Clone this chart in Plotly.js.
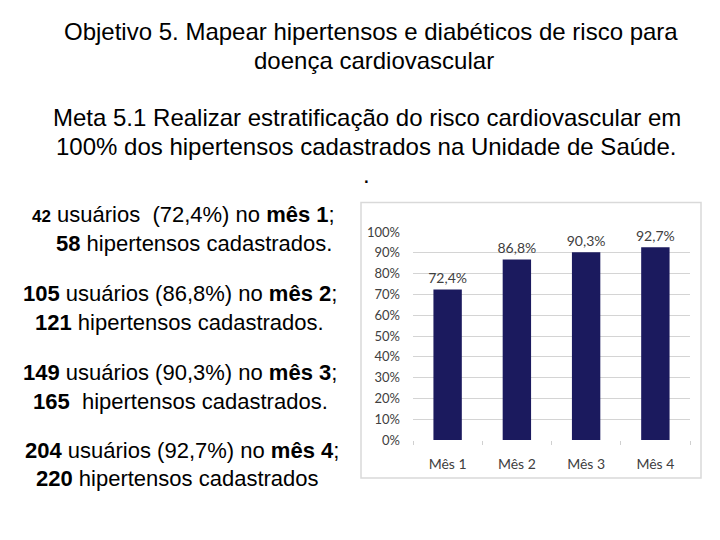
<!DOCTYPE html>
<html>
<head>
<meta charset="utf-8">
<script src="https://cdn.plot.ly/plotly-3.0.1.min.js"></script>
<style>html,body{margin:0;padding:0;background:#fff;}#chart{width:720px;height:540px;}</style>
</head>
<body>
<div id="chart"></div>
<script>
// Data
const months = ['Mês 1', 'Mês 2', 'Mês 3', 'Mês 4'];
const percentages = [72.4, 86.8, 90.3, 92.7];
const usuarios = [42, 105, 149, 204];
const cadastrados = [58, 121, 165, 220];
const yTicks = [0, 10, 20, 30, 40, 50, 60, 70, 80, 90, 100];
const yTickLabels = yTicks.map(v => v + '%');
const titleLines = [
  'Objetivo 5. Mapear hipertensos e diabéticos de risco para',
  'doença cardiovascular',
  'Meta 5.1 Realizar estratificação do risco cardiovascular em',
  '100% dos hipertensos cadastrados na Unidade de Saúde.',
  '.'
];

// Layout geometry (pixels)
const W = 720, H = 540;
const L = 413, R = 690, T = 231.5, B = 440;
const px = x => (x - L) / (R - L);
const py = y => (B - y) / (B - T);

const annotations = [];
const titlePos = [[371, 31], [374, 60], [367, 117], [366, 146], [366, 174]];
titleLines.forEach((t, i) => {
  annotations.push({
    xref: 'paper', yref: 'paper', x: px(titlePos[i][0]), y: py(titlePos[i][1]),
    xanchor: 'center', yanchor: 'middle', showarrow: false, text: t,
    font: {family: 'Liberation Sans, Arial, sans-serif', size: 24, color: '#000'}
  });
});

const leftCenters = [[183, 214, 194, 243], [180, 293, 179, 322], [180, 372, 180, 401], [182, 451, 177, 479]];
const fmt = v => v.toFixed(1).replace('.', ',');
months.forEach((m, i) => {
  const n = m.split(' ')[1];
  const first = (i === 0 ? '<b><span style="font-size:17px">' + usuarios[i] + '</span></b>' : '<b>' + usuarios[i] + '</b>') +
    ' usuários ' + (i === 0 ? ' ' : '') + '(' + fmt(percentages[i]) + '%) no <b>mês ' + n + '</b>;';
  const second = '<b>' + cadastrados[i] + '</b>' + (i === 2 ? '  ' : ' ') + 'hipertensos cadastrados' + (i < 3 ? '.' : '');
  const c = leftCenters[i];
  annotations.push({
    xref: 'paper', yref: 'paper', x: px(c[0]), y: py(c[1]), xanchor: 'center', yanchor: 'middle',
    showarrow: false, text: first, font: {family: 'Liberation Sans, Arial, sans-serif', size: 22, color: '#000'}
  });
  annotations.push({
    xref: 'paper', yref: 'paper', x: px(c[2]), y: py(c[3]), xanchor: 'center', yanchor: 'middle',
    showarrow: false, text: second, font: {family: 'Liberation Sans, Arial, sans-serif', size: 22, color: '#000'}
  });
});

const trace = {
  type: 'bar',
  x: months,
  y: percentages,
  marker: {color: '#1b1a5e'},
  texttemplate: '%{y:.1f}%',
  textposition: 'outside',
  constraintext: 'none',
  textfont: {family: 'Lato, Open Sans, sans-serif', size: 14, color: '#404040'},
  cliponaxis: false,
  hoverinfo: 'none'
};

const layout = {
  width: W, height: H,
  margin: {l: L, r: W - R, t: T, b: H - B, pad: 0},
  paper_bgcolor: '#fff', plot_bgcolor: '#fff',
  separators: ',.',
  showlegend: false,
  bargap: 0.59,
  xaxis: {
    type: 'category',
    tickfont: {family: 'Lato, Open Sans, sans-serif', size: 14, color: '#404040'},
    ticks: 'outside', tickson: 'boundaries', ticklen: 4, tickcolor: '#d0d0d0',
    showgrid: false, zeroline: false, showline: false,
    ticklabelstandoff: 14
  },
  yaxis: {
    range: [0, 100],
    tickmode: 'array',
    tickvals: yTicks,
    ticktext: yTickLabels,
    tickfont: {family: 'Lato, Open Sans, sans-serif', size: 13, color: '#404040'},
    gridcolor: '#d4d4d4', gridwidth: 1,
    zeroline: false, showline: false,
    ticklabelstandoff: 12
  },
  shapes: [{
    type: 'rect', xref: 'paper', yref: 'paper',
    x0: px(361), x1: px(701), y0: py(478), y1: py(202),
    line: {color: '#d9d9d9', width: 1.5}, fillcolor: 'rgba(0,0,0,0)', layer: 'below'
  }],
  annotations: annotations
};

Plotly.newPlot('chart', [trace], layout, {displayModeBar: false, staticPlot: true});
</script>
</body>
</html>
